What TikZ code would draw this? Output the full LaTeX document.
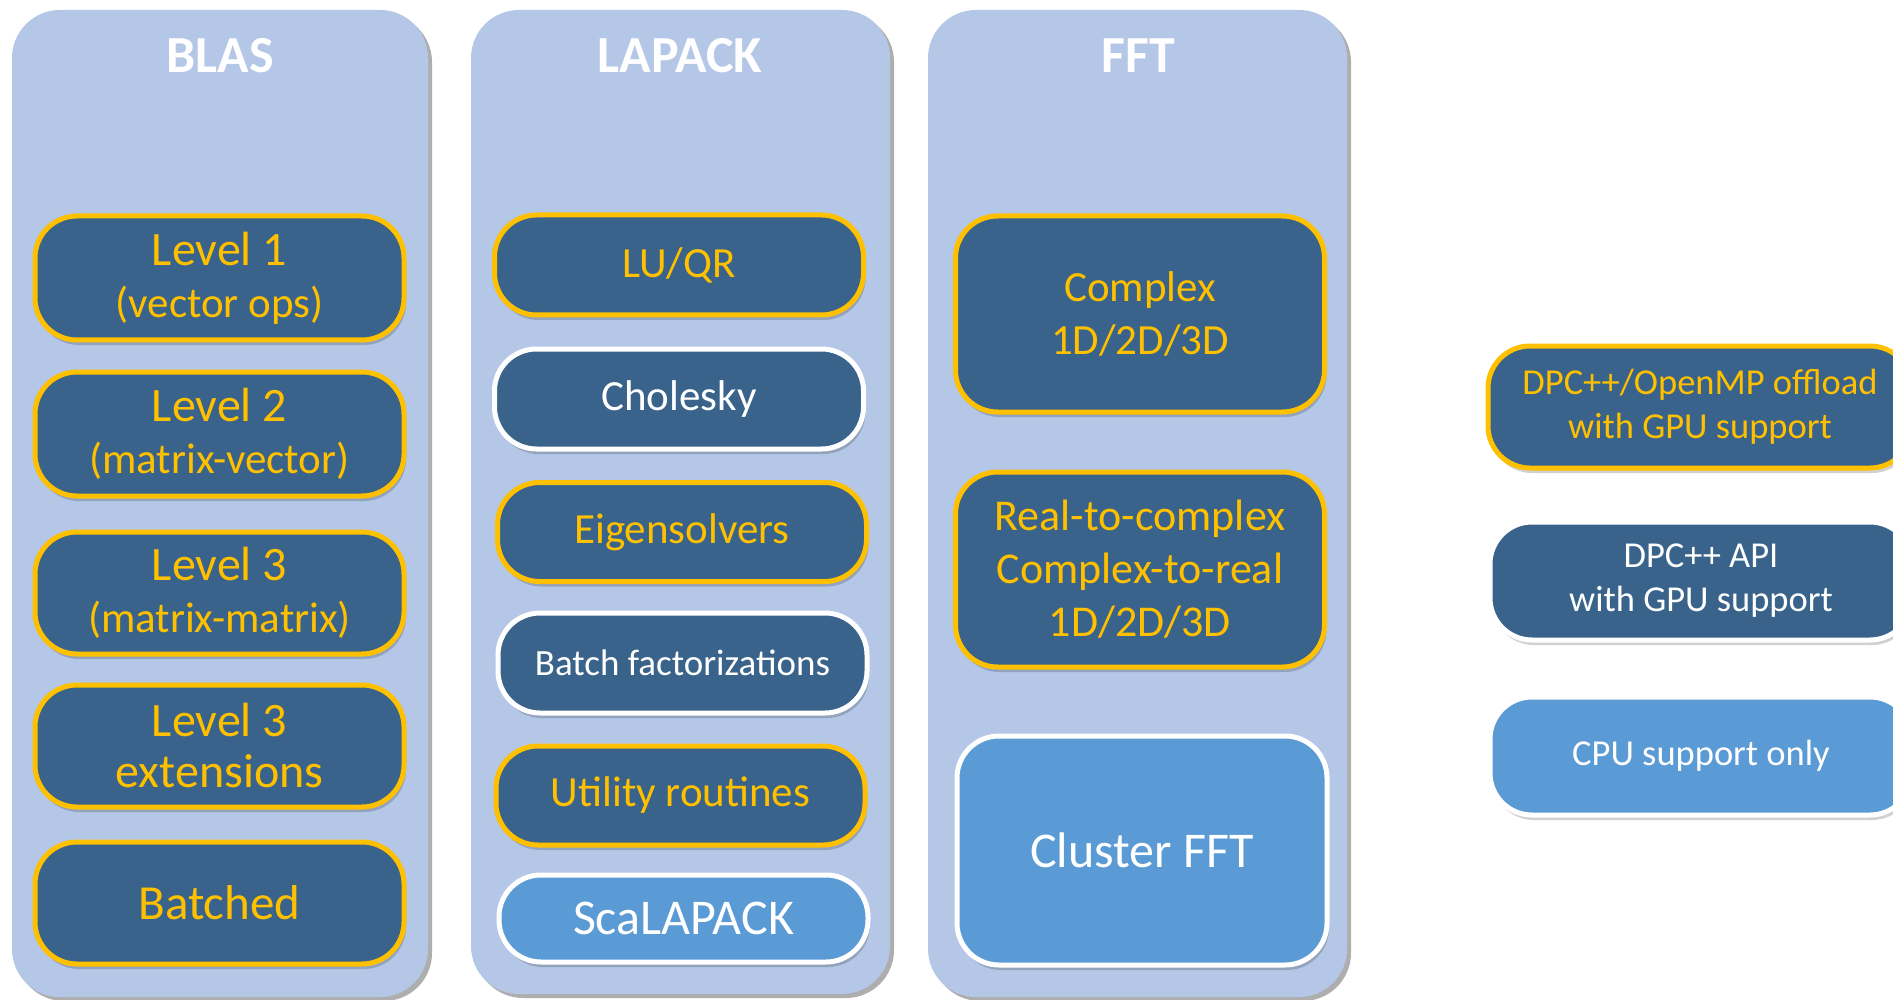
\documentclass[tikz,border=0pt]{standalone}
\usepackage{fontspec}
\setmainfont{Carlito}
\usetikzlibrary{shadows}

\definecolor{panelblue}{HTML}{B4C7E7}
\definecolor{darkbox}{RGB}{57,99,138}
\definecolor{cpubox}{HTML}{5B9BD5}
\definecolor{gold}{HTML}{FFC000}

\newcommand{\fs}[2]{\fontsize{#1}{#2}\selectfont}

\tikzset{
  panel/.style={fill=panelblue, rounded corners=48pt, inner sep=0pt,
    drop shadow={shadow xshift=4pt, shadow yshift=-4pt, opacity=0.45, fill=black!70}},
  paneltitle/.style={text=white, font=\fs{52}{58}\bfseries, inner sep=0pt},
  basebox/.style={line width=5pt, rounded corners=42pt, align=center, inner sep=0pt,
    font=\fs{43}{53},
    drop shadow={shadow xshift=2pt, shadow yshift=-5pt, opacity=0.18, fill=black}},
  gpubox/.style={basebox, fill=darkbox, draw=gold, text=gold},
  apibox/.style={basebox, fill=darkbox, draw=white, text=white},
  cpubox/.style={basebox, fill=cpubox, draw=white, text=white},
  keytext/.style={font=\fs{36.5}{44}},
}

\begin{document}
\begin{tikzpicture}[x=1pt, y=-1pt]
\useasboundingbox (0,0) rectangle (1893,1000);
\clip (0,0) rectangle (1893,1000);

% column panels
\node[panel, minimum width=416pt, minimum height=987pt] (blaspanel) at (220,503.5) {};
\node[panel, minimum width=419pt, minimum height=984pt] (lapackpanel) at (680.5,502) {};
\node[panel, minimum width=419pt, minimum height=987pt] (fftpanel) at (1137.5,503.5) {};

\node[paneltitle] (blastitle) at (220,56) {BLAS};
\node[paneltitle] (lapacktitle) at (680,56) {LAPACK};
\node[paneltitle] (ffttitle) at (1138,56) {FFT};

% BLAS
\node[gpubox, minimum width=369pt, minimum height=124pt, font=\fs{43}{52}] (lvl1) at (219.5,278)
  {{\fs{48}{52}Level 1}\\(vector ops)};
\node[gpubox, minimum width=369pt, minimum height=124pt, font=\fs{43}{52}] (lvl2) at (219.5,434)
  {{\fs{48}{52}Level 2}\\(matrix-vector)};
\node[gpubox, minimum width=369pt, minimum height=122pt, font=\fs{43}{52}] (lvl3) at (219.5,593)
  {{\fs{48}{52}Level 3}\\(matrix-matrix)};
\node[gpubox, minimum width=369pt, minimum height=122pt, font=\fs{48}{51}] (lvl3ext) at (219.5,746)
  {Level 3\\extensions};
\node[gpubox, minimum width=369pt, minimum height=122pt, font=\fs{49}{52}] (batched) at (219.5,903)
  {Batched};

% LAPACK
\node[gpubox, minimum width=369pt, minimum height=100pt] (luqr) at (679,265)
  {LU/QR};
\node[apibox, minimum width=369pt, minimum height=100pt] (cholesky) at (679,399)
  {Cholesky};
\node[gpubox, minimum width=369pt, minimum height=99pt] (eigen) at (682,532)
  {Eigensolvers};
\node[apibox, minimum width=369pt, minimum height=100pt, font=\fs{37}{44}] (batchfact) at (682.5,663)
  {Batch factorizations};
\node[gpubox, minimum width=369pt, minimum height=99pt] (utility) at (680.5,795.5)
  {Utility routines};
\node[cpubox, minimum width=369pt, minimum height=87pt, font=\fs{50}{52}] (scalapack) at (683.5,918.5)
  {ScaLAPACK};

% FFT
\node[gpubox, minimum width=369pt, minimum height=196pt] (complex) at (1140,314)
  {Complex\\1D/2D/3D};
\node[gpubox, minimum width=369pt, minimum height=195pt, font=\fs{44}{53}] (realcomplex) at (1140,569.5)
  {Real-to-complex\\Complex-to-real\\1D/2D/3D};
\node[cpubox, minimum width=370pt, minimum height=229pt, font=\fs{50}{52}] (clusterfft) at (1142,850.5)
  {Cluster FFT};

% legend
\node[gpubox, minimum width=424pt, minimum height=122pt, keytext] (keyoffload) at (1700,407)
  {DPC++/OpenMP offload\\with GPU support};
\node[apibox, minimum width=422pt, minimum height=118pt, keytext] (keyapi) at (1701,581)
  {DPC++ API\\with GPU support};
\node[cpubox, minimum width=422pt, minimum height=118pt, keytext] (keycpu) at (1701,756)
  {CPU support only};
\end{tikzpicture}
\end{document}
